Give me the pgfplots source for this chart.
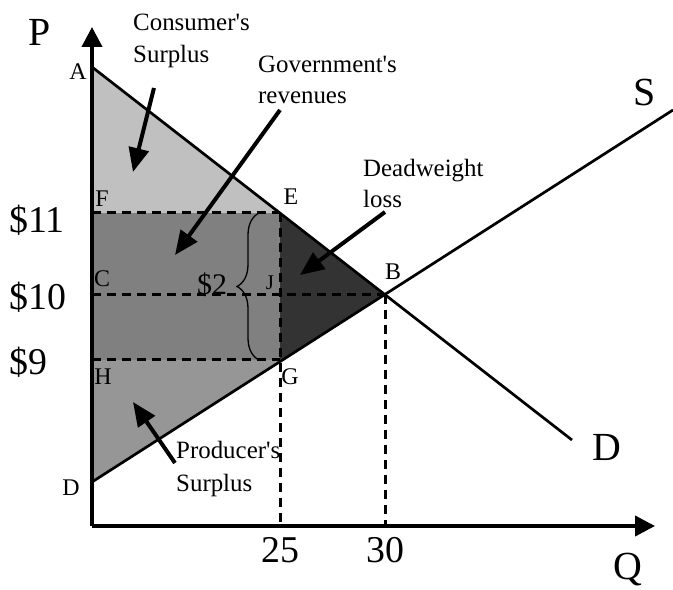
\documentclass[border=0pt]{standalone}
\usepackage{fontspec}
\setmainfont{Liberation Serif}[Ligatures=TeXOff]
\usepackage{pgfplots}
\pgfplotsset{compat=1.18}
\usetikzlibrary{arrows.meta,decorations.pathreplacing}
\definecolor{csgray}{HTML}{C0C0C0}
\definecolor{govgray}{HTML}{808080}
\definecolor{dwlgray}{HTML}{333333}
\definecolor{psgray}{HTML}{969696}
\begin{document}
\begin{tikzpicture}
\begin{axis}[
  x=1bp, y=1bp, xmin=0, xmax=563, ymin=0, ymax=499,
  axis lines=left, axis on top, clip=false, no markers,
  axis line style={line width=4bp, -{Triangle[length=20bp,width=20bp]}},
  major tick length=0pt,
  xtick={188,293}, xticklabels={25,30},
  ytick={306,228.5,164}, yticklabels={\$11,\$10,\$9},
  xticklabel style={font=\fontsize{38}{38}\selectfont, inner sep=0pt, anchor=north, yshift=-11bp},
  yticklabel style={font=\fontsize{38}{38}\selectfont, inner sep=0pt, anchor=west, xshift=-83bp},
]
% areas
\addplot[fill=csgray, draw=none] coordinates {(0,459) (0,313) (188,313)};
\addplot[fill=govgray, draw=none] coordinates {(0,166) (0,313) (188,313) (188,166)};
\addplot[fill=psgray, draw=none] coordinates {(0,44) (0,166) (190.5,166)};
\addplot[fill=dwlgray, draw=none] coordinates {(188,313) (293,231) (190.5,166) (188,166)};
% dashed guides
\addplot[line width=3bp, dash pattern=on 9bp off 6bp] coordinates {(0,313) (188,313)};
\addplot[line width=3bp, dash pattern=on 9bp off 6bp] coordinates {(0,231) (293,231)};
\addplot[line width=3bp, dash pattern=on 9bp off 6bp] coordinates {(0,166) (188,166)};
\addplot[line width=3bp, dash pattern=on 9bp off 6bp] coordinates {(188,313) (188,0)};
\addplot[line width=3bp, dash pattern=on 9bp off 6bp] coordinates {(293,231) (293,0)};
% demand and supply
\addplot[line width=2.7bp] coordinates {(0,459) (480,86)};
\addplot[line width=2.7bp] coordinates {(0,44) (581,416)};
% brace
\addplot[line width=1.3bp, decorate, decoration={brace, amplitude=22bp}] coordinates {(167,166) (167,313)};
% arrows
\addplot[line width=4bp, -{Triangle[length=24bp,width=20bp]}] coordinates {(62,438) (41,354)};
\addplot[line width=4bp, -{Triangle[length=24bp,width=20bp]}] coordinates {(188,416) (83,271)};
\addplot[line width=4bp, -{Triangle[length=24bp,width=20bp]}] coordinates {(293,314) (208,251)};
\addplot[line width=4bp, -{Triangle[length=24bp,width=20bp]}] coordinates {(83,63) (41,124)};
% text
\begin{scope}[every node/.style={anchor=base west, inner sep=0pt, font=\fontsize{25}{25}\selectfont}]
\node at (axis cs:41,495) {Consumer's};
\node at (axis cs:41,463) {Surplus};
\node at (axis cs:166,453) {Government's};
\node at (axis cs:166,422) {revenues};
\node at (axis cs:271,349) {Deadweight};
\node at (axis cs:271,318) {loss};
\node at (axis cs:84,67) {Producer's};
\node at (axis cs:84,34) {Surplus};
\end{scope}
\begin{scope}[every node/.style={inner sep=0pt, font=\fontsize{24}{24}\selectfont}]
\node at (axis cs:-14,454) {A};
\node at (axis cs:10,327) {F};
\node at (axis cs:10,247) {C};
\node at (axis cs:11,149) {H};
\node at (axis cs:-21,38) {D};
\node at (axis cs:199,329) {E};
\node at (axis cs:301,254) {B};
\node at (axis cs:198,149) {G};
\end{scope}
\node[inner sep=0pt, font=\fontsize{21}{21}\selectfont] at (axis cs:178,243) {J};
\node[inner sep=0pt, font=\fontsize{30}{30}\selectfont] at (axis cs:120,241) {\$2};
\begin{scope}[every node/.style={inner sep=0pt, font=\fontsize{40}{40}\selectfont}]
\node at (axis cs:553,433) {S};
\node at (axis cs:515,79) {D};
\node at (axis cs:-52,494) {P};
\node at (axis cs:536,-44) {Q};
\end{scope}
\coordinate (bl) at (axis cs:-92,-64);
\coordinate (tr) at (axis cs:581,526);
\end{axis}
\pgfresetboundingbox
\path (bl) rectangle (tr);
\end{tikzpicture}
\end{document}
